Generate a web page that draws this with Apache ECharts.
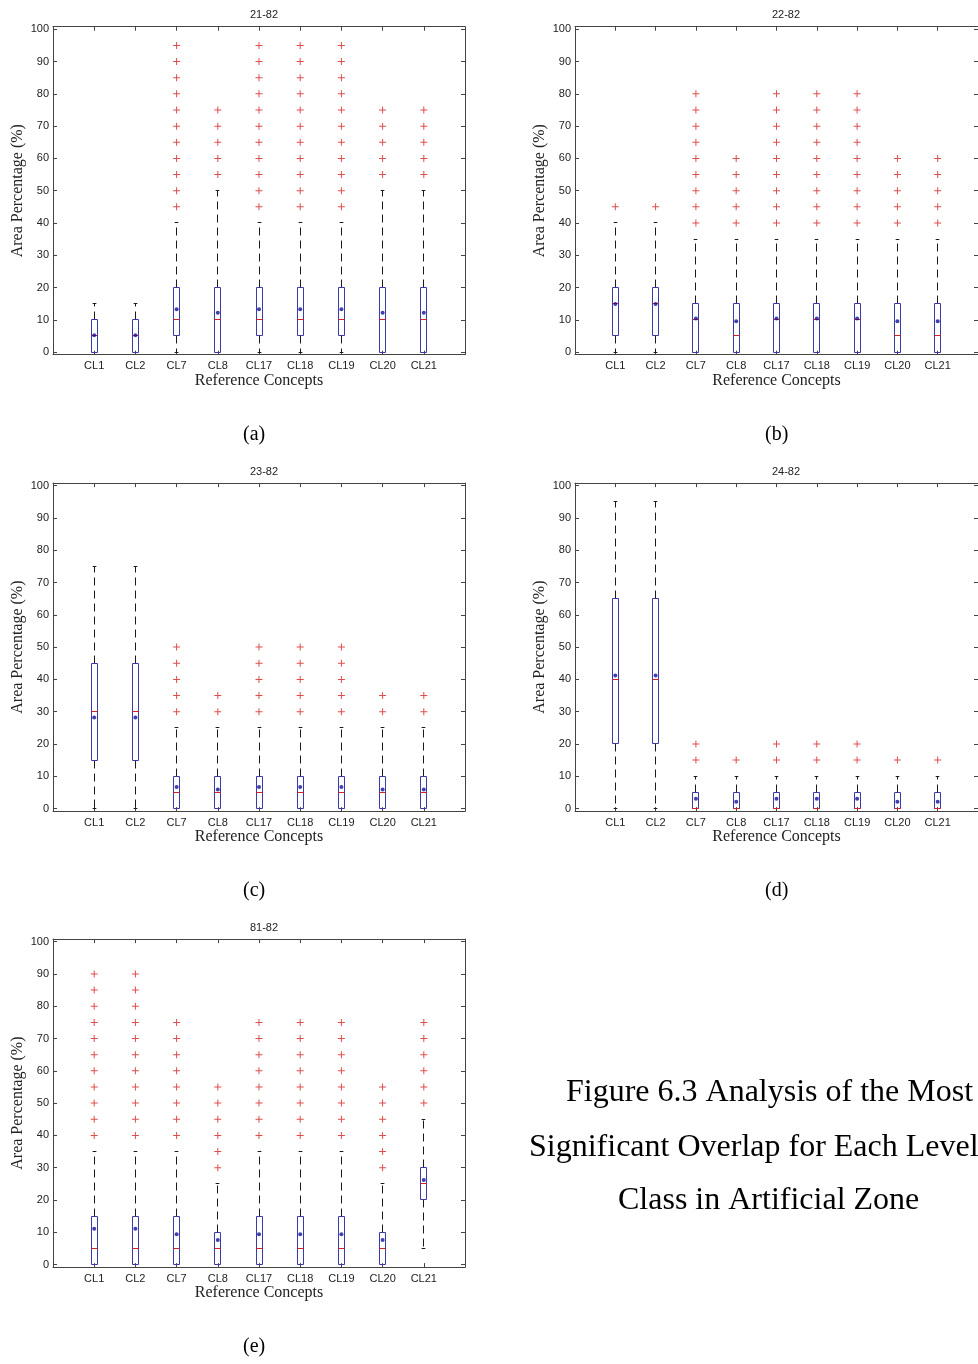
<!DOCTYPE html>
<html>
<head>
<meta charset="UTF-8">
<title>Figure 6.3</title>
<script src="https://cdn.jsdelivr.net/npm/echarts@6/dist/echarts.min.js"></script>
<style>
  html, body { margin: 0; padding: 0; background: #fff; }
  #main { width: 978px; height: 1364px; }
</style>
</head>
<body>
<div id="main"></div>
<script>
// categories and ticks
var categories = ['CL1', 'CL2', 'CL7', 'CL8', 'CL17', 'CL18', 'CL19', 'CL20', 'CL21'];
var yTicks = [0, 10, 20, 30, 40, 50, 60, 70, 80, 90, 100];
var panelTitles = ['21-82', '22-82', '23-82', '24-82', '81-82'];
var panelLetters = ['(a)', '(b)', '(c)', '(d)', '(e)'];
var captionLines = ['Figure 6.3 Analysis of the Most', 'Significant Overlap for Each Level', 'Class in Artificial Zone'];

// box stats per category: [min whisker, Q1, median, Q3, max whisker]
var boxA = [[0, 0, 5, 10, 15], [0, 0, 5, 10, 15], [0, 5, 10, 20, 40], [0, 0, 10, 20, 50], [0, 5, 10, 20, 40], [0, 5, 10, 20, 40], [0, 5, 10, 20, 40], [0, 0, 10, 20, 50], [0, 0, 10, 20, 50]];
var boxB = [[0, 5, 15, 20, 40], [0, 5, 15, 20, 40], [0, 0, 10, 15, 35], [0, 0, 5, 15, 35], [0, 0, 10, 15, 35], [0, 0, 10, 15, 35], [0, 0, 10, 15, 35], [0, 0, 5, 15, 35], [0, 0, 5, 15, 35]];
var boxC = [[0, 15, 30, 45, 75], [0, 15, 30, 45, 75], [0, 0, 5, 10, 25], [0, 0, 5, 10, 25], [0, 0, 5, 10, 25], [0, 0, 5, 10, 25], [0, 0, 5, 10, 25], [0, 0, 5, 10, 25], [0, 0, 5, 10, 25]];
var boxD = [[0, 20, 40, 65, 95], [0, 20, 40, 65, 95], [0, 0, 0, 5, 10], [0, 0, 0, 5, 10], [0, 0, 0, 5, 10], [0, 0, 0, 5, 10], [0, 0, 0, 5, 10], [0, 0, 0, 5, 10], [0, 0, 0, 5, 10]];
var boxE = [[0, 0, 5, 15, 35], [0, 0, 5, 15, 35], [0, 0, 5, 15, 35], [0, 0, 5, 10, 25], [0, 0, 5, 15, 35], [0, 0, 5, 15, 35], [0, 0, 5, 15, 35], [0, 0, 5, 10, 25], [5, 20, 25, 30, 45]];

// means
var meanA = [5.2, 5.2, 13.3, 12.2, 13.3, 13.3, 13.3, 12.2, 12.2];
var meanB = [14.9, 14.9, 10.4, 9.6, 10.4, 10.4, 10.4, 9.6, 9.6];
var meanC = [28.2, 28.2, 6.7, 5.9, 6.7, 6.7, 6.7, 5.9, 5.9];
var meanD = [41.2, 41.2, 3.0, 2.1, 3.0, 3.0, 3.0, 2.1, 2.1];
var meanE = [11.1, 11.1, 9.4, 7.6, 9.4, 9.4, 9.4, 7.6, 26.2];

// outliers
var outA = [[], [],
  [45, 50, 55, 60, 65, 70, 75, 80, 85, 90, 95], [55, 60, 65, 70, 75],
  [45, 50, 55, 60, 65, 70, 75, 80, 85, 90, 95], [45, 50, 55, 60, 65, 70, 75, 80, 85, 90, 95],
  [45, 50, 55, 60, 65, 70, 75, 80, 85, 90, 95], [55, 60, 65, 70, 75], [55, 60, 65, 70, 75]];
var outB = [[45], [45],
  [40, 45, 50, 55, 60, 65, 70, 75, 80], [40, 45, 50, 55, 60],
  [40, 45, 50, 55, 60, 65, 70, 75, 80], [40, 45, 50, 55, 60, 65, 70, 75, 80],
  [40, 45, 50, 55, 60, 65, 70, 75, 80], [40, 45, 50, 55, 60], [40, 45, 50, 55, 60]];
var outC = [[], [],
  [30, 35, 40, 45, 50], [30, 35],
  [30, 35, 40, 45, 50], [30, 35, 40, 45, 50], [30, 35, 40, 45, 50], [30, 35], [30, 35]];
var outD = [[], [], [15, 20], [15], [15, 20], [15, 20], [15, 20], [15], [15]];
var outE = [[40, 45, 50, 55, 60, 65, 70, 75, 80, 85, 90], [40, 45, 50, 55, 60, 65, 70, 75, 80, 85, 90],
  [40, 45, 50, 55, 60, 65, 70, 75], [30, 35, 40, 45, 50, 55],
  [40, 45, 50, 55, 60, 65, 70, 75], [40, 45, 50, 55, 60, 65, 70, 75],
  [40, 45, 50, 55, 60, 65, 70, 75], [30, 35, 40, 45, 50, 55], [50, 55, 60, 65, 70, 75]];

var boxes = [boxA, boxB, boxC, boxD, boxE];
var means = [meanA, meanB, meanC, meanD, meanE];
var outliers = [outA, outB, outC, outD, outE];

// layout of the five panels (px)
var panels = [
  { left: 53, top: 26.7 },
  { left: 575, top: 26.7 },
  { left: 53, top: 483.1 },
  { left: 575, top: 483.1 },
  { left: 53, top: 939.1 }
];
var GRID_W = 412, GRID_H = 328;
var AXIS_COLOR = '#444';
var TEXT_COLOR = '#222';
var BOX_W = 0.16, CAP_W = 0.09;
var plusPath = 'path://M3,0h1v3h3v1h-3v3h-1v-3h-3v-1h3z';
var xTickVals = [1, 2, 3, 4, 5, 6, 7, 8, 9];

function crisp(v) { return Math.round(v - 0.5) + 0.5; }

function renderBox(params, api) {
  var x = api.value(0);
  var lo = api.coord([x, api.value(1)]);
  var q1 = api.coord([x, api.value(2)]);
  var md = api.coord([x, api.value(3)]);
  var q3 = api.coord([x, api.value(4)]);
  var hi = api.coord([x, api.value(5)]);
  var hw = api.size([BOX_W, 0])[0] / 2;
  var cw = api.size([CAP_W, 0])[0] / 2;
  var cx = crisp(lo[0]);
  var l = crisp(cx - hw), r = crisp(cx + hw);
  var dash = { stroke: '#1a1a1a', lineWidth: 1, lineDash: [8, 5] };
  var solid = { stroke: '#1a1a1a', lineWidth: 1 };
  var kids = [];
  if (hi[1] < q3[1]) kids.push({ type: 'line', shape: { x1: cx, y1: crisp(q3[1]), x2: cx, y2: crisp(hi[1]) }, style: dash });
  if (lo[1] > q1[1]) kids.push({ type: 'line', shape: { x1: cx, y1: crisp(q1[1]), x2: cx, y2: crisp(lo[1]) }, style: dash });
  kids.push({ type: 'line', shape: { x1: cx - cw, y1: crisp(hi[1]), x2: cx + cw, y2: crisp(hi[1]) }, style: solid });
  kids.push({ type: 'line', shape: { x1: cx - cw, y1: crisp(lo[1]), x2: cx + cw, y2: crisp(lo[1]) }, style: solid });
  kids.push({ type: 'rect', shape: { x: l, y: crisp(q3[1]), width: r - l, height: crisp(q1[1]) - crisp(q3[1]) },
    style: { fill: 'none', stroke: '#3a3aa8', lineWidth: 1 } });
  kids.push({ type: 'line', shape: { x1: l, y1: crisp(md[1]), x2: r, y2: crisp(md[1]) }, style: { stroke: '#d82020', lineWidth: 1 } });
  return { type: 'group', children: kids };
}

var grid = [], xAxis = [], yAxis = [], title = [], series = [], graphic = [];

panels.forEach(function (p, i) {
  grid.push({ left: p.left, top: p.top, width: GRID_W, height: GRID_H, containLabel: false });
  title.push({
    text: panelTitles[i], left: p.left + GRID_W / 2, top: p.top - 22, textAlign: 'center',
    textStyle: { fontFamily: 'Liberation Sans', fontSize: 11, fontWeight: 'normal', color: TEXT_COLOR }
  });
  // bottom x
  xAxis.push({
    type: 'value', gridIndex: i, position: 'bottom', min: 0, max: 10,
    axisLine: { show: true, onZero: false, lineStyle: { color: AXIS_COLOR } },
    axisTick: { show: true, inside: true, length: 4, customValues: xTickVals, lineStyle: { color: AXIS_COLOR } },
    axisLabel: {
      customValues: xTickVals, margin: 6, fontFamily: 'Liberation Sans', fontSize: 11, color: TEXT_COLOR,
      formatter: function (v) { return categories[v - 1] || ''; }
    },
    splitLine: { show: false },
    name: 'Reference Concepts', nameLocation: 'middle', nameGap: 18,
    nameTextStyle: { fontFamily: 'Liberation Serif', fontSize: 16, color: TEXT_COLOR }
  });
  // top x
  xAxis.push({
    type: 'value', gridIndex: i, position: 'top', min: 0, max: 10,
    axisLine: { show: true, onZero: false, lineStyle: { color: AXIS_COLOR } },
    axisTick: { show: true, inside: true, length: 4, customValues: xTickVals, lineStyle: { color: AXIS_COLOR } },
    axisLabel: { show: false }, splitLine: { show: false }
  });
  // left y
  yAxis.push({
    type: 'value', gridIndex: i, position: 'left', min: -0.8, max: 100.8,
    axisLine: { show: true, onZero: false, lineStyle: { color: AXIS_COLOR } },
    axisTick: { show: true, inside: true, length: 4, customValues: yTicks, lineStyle: { color: AXIS_COLOR } },
    axisLabel: { customValues: yTicks, margin: 4, fontFamily: 'Liberation Sans', fontSize: 11, color: TEXT_COLOR },
    splitLine: { show: false },
    name: 'Area Percentage (%)', nameLocation: 'middle', nameGap: 27, nameRotate: 90,
    nameTextStyle: { fontFamily: 'Liberation Serif', fontSize: 16, color: TEXT_COLOR }
  });
  // right y
  yAxis.push({
    type: 'value', gridIndex: i, position: 'right', min: -0.8, max: 100.8,
    axisLine: { show: true, onZero: false, lineStyle: { color: AXIS_COLOR } },
    axisTick: { show: true, inside: true, length: 4, customValues: yTicks, lineStyle: { color: AXIS_COLOR } },
    axisLabel: { show: false }, splitLine: { show: false }
  });

  var boxData = boxes[i].map(function (b, k) { return [k + 1].concat(b); });
  var outData = [];
  outliers[i].forEach(function (list, k) {
    list.forEach(function (v) { outData.push([k + 1, v]); });
  });
  var meanData = means[i].map(function (m, k) { return [k + 1, m]; });

  series.push({
    type: 'custom', xAxisIndex: 2 * i, yAxisIndex: 2 * i, renderItem: renderBox,
    encode: { x: 0, y: [1, 2, 3, 4, 5] }, data: boxData, silent: true, z: 2
  });
  series.push({
    type: 'scatter', xAxisIndex: 2 * i, yAxisIndex: 2 * i, symbol: plusPath, symbolSize: 7,
    itemStyle: { color: '#d82020' }, data: outData, silent: true, z: 3
  });
  series.push({
    type: 'scatter', xAxisIndex: 2 * i, yAxisIndex: 2 * i, symbol: 'circle', symbolSize: 4,
    itemStyle: { color: '#10109a' }, data: meanData, silent: true, z: 4
  });

  graphic.push({
    type: 'text', left: p.left + GRID_W / 2 - 16, top: p.top + GRID_H + 70,
    style: { text: panelLetters[i], font: '20px "Liberation Serif"', fill: '#000' }
  });
});

var capX = [566, 529, 618], capY = [1077, 1132, 1185];
captionLines.forEach(function (t, k) {
  graphic.push({
    type: 'text', left: capX[k], top: capY[k],
    style: { text: t, font: '32px "Liberation Serif"', fill: '#000' }
  });
});

var chart = echarts.init(document.getElementById('main'));
chart.setOption({
  backgroundColor: '#fff',
  animation: false,
  title: title,
  grid: grid,
  xAxis: xAxis,
  yAxis: yAxis,
  series: series,
  graphic: graphic
});
</script>
</body>
</html>
